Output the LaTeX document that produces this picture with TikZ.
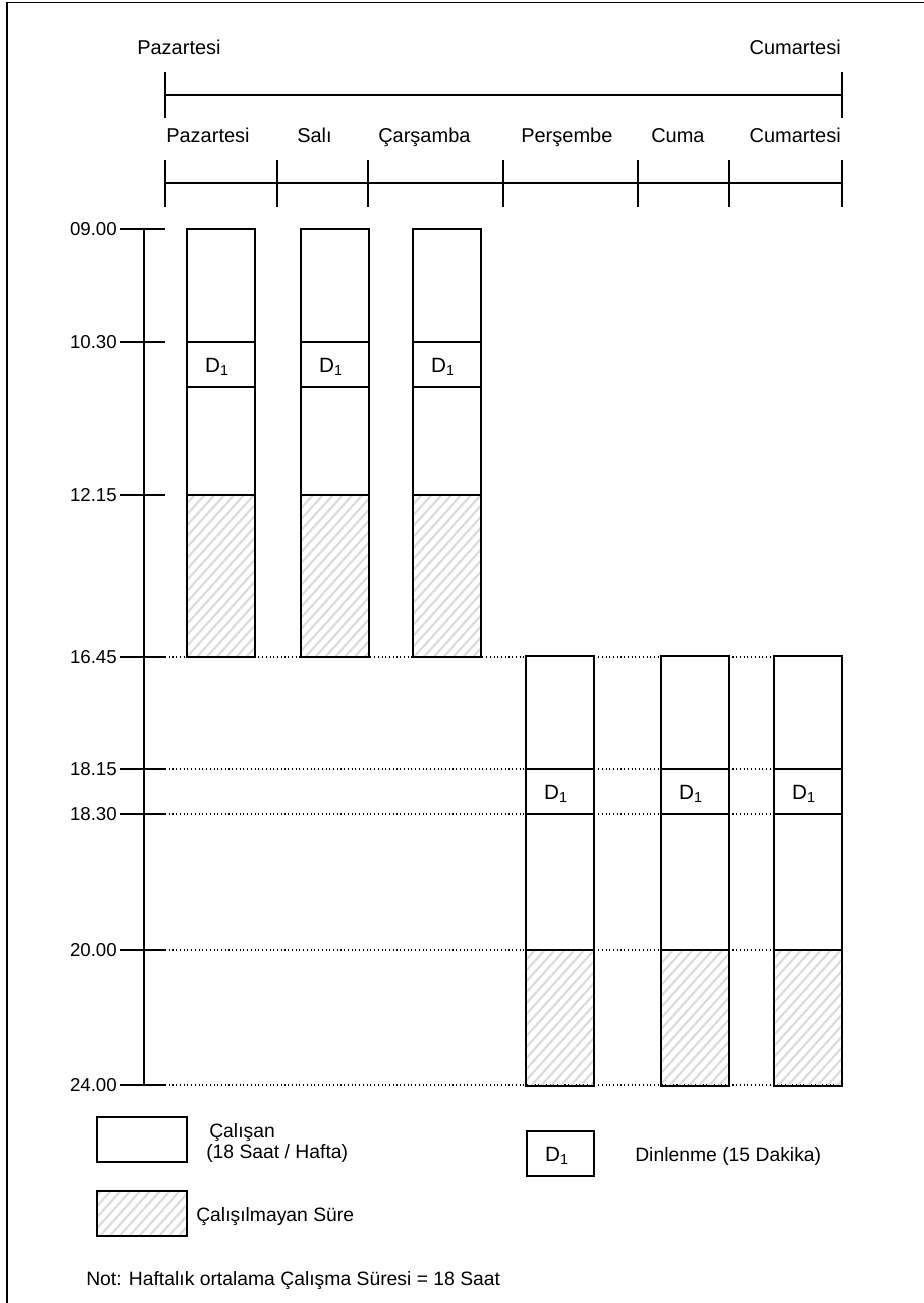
\documentclass[tikz,border=0pt]{standalone}
\usepackage{fontspec}
\setmainfont{Liberation Sans}
\usetikzlibrary{patterns.meta}
\begin{document}
\begin{tikzpicture}[x=0.75pt,y=-0.75pt,
  font=\fontsize{14.5}{17}\selectfont,
  axisline/.style={line width=1.2pt},
  box/.style={draw, line width=1.1pt, fill=white},
  hatch/.style={draw, line width=1.1pt, pattern={Lines[angle=48,distance=5.5pt,line width=1.6pt]}, pattern color=black!14},
  dotline/.style={line width=0.8pt, dotted},
  lbl/.style={inner sep=0pt, anchor=base west},
  lble/.style={inner sep=0pt, anchor=base east},
  daylbl/.style={font=\fontsize{15}{18}\selectfont},
  ticklbl/.style={inner sep=0pt, anchor=base east, font=\fontsize{14}{16}\selectfont},
  dlbl/.style={inner sep=0pt, anchor=base, font=\fontsize{15.5}{18}\selectfont}]
\useasboundingbox (0,0) rectangle (924,1303);
% frame
\draw[line width=1pt] (7,1303) -- (7,2.5) -- (924,2.5);
% week line
\node[lbl,daylbl] (wstart) at (137,54) {Pazartesi};
\node[lble,daylbl] (wend) at (841,54) {Cumartesi};
\draw[axisline] (165,95) -- (842,95);
\draw[axisline] (165,72) -- (165,118);
\draw[axisline] (842,72) -- (842,118);
% day labels
\node[lbl,daylbl] (d1) at (166,142) {Pazartesi};
\node[lbl,daylbl] (d2) at (297,142) {Salı};
\node[lbl,daylbl] (d3) at (378,142) {Çarşamba};
\node[lbl,daylbl] (d4) at (521,142) {Perşembe};
\node[lbl,daylbl] (d5) at (651,142) {Cuma};
\node[lble,daylbl] (d6) at (841,142) {Cumartesi};
\draw[axisline] (165,183) -- (842,183);
\foreach \x in {165,277,368,503,638,729,842}
  \draw[axisline] (\x,160) -- (\x,207);
% dotted guide lines
\foreach \y in {657,769,814,950,1085}
  \draw[dotline] (165,\y) -- (842,\y);
% time axis
\draw[axisline] (144,229) -- (144,1085);
\foreach \y/\t/\n in {229/09.00/ta,342/10.30/tb,495/12.15/tc,657/16.45/td,769/18.15/te,814/18.30/tf,950/20.00/tg,1085/24.00/th}{
  \draw[axisline] (120,\y) -- (165,\y);
  \node[ticklbl] (\n) at (117,\y+6.5) {\t};
}
% left bars
\foreach \x/\n in {187/a,301/b,413/c}{
  \draw[box] (\x,229) rectangle (\x+68,342);
  \draw[box] (\x,342) rectangle (\x+68,387);
  \node[dlbl] (r\n) at (\x+30,372) {D\textsubscript{1}};
  \draw[box] (\x,387) rectangle (\x+68,495);
  \draw[hatch] (\x,495) rectangle (\x+68,657);
}
% right bars
\foreach \x/\n in {526/d,661/e,774/f}{
  \draw[box] (\x,656) rectangle (\x+68,769);
  \draw[box] (\x,769) rectangle (\x+68,814);
  \node[dlbl] (r\n) at (\x+30,799) {D\textsubscript{1}};
  \draw[box] (\x,814) rectangle (\x+68,950);
  \draw[hatch] (\x,950) rectangle (\x+68,1086);
}
% legend
\draw[box] (97,1117) rectangle (187,1162);
\node[lbl] (l1a) at (209,1137) {Çalışan};
\node[lbl] (l1b) at (206,1158) {(18 Saat / Hafta)};
\draw[box] (527,1131) rectangle (594,1176);
\node[dlbl] (l2a) at (557,1161) {D\textsubscript{1}};
\node[lbl] (l2b) at (635,1161) {Dinlenme (15 Dakika)};
\draw[hatch] (97,1191) rectangle (187,1236);
\node[lbl] (l3) at (196,1221) {Çalışılmayan Süre};
\node[lbl] (note) at (86,1285) {Not: Haftalık ortalama Çalışma Süresi = 18 Saat};
\end{tikzpicture}
\end{document}
